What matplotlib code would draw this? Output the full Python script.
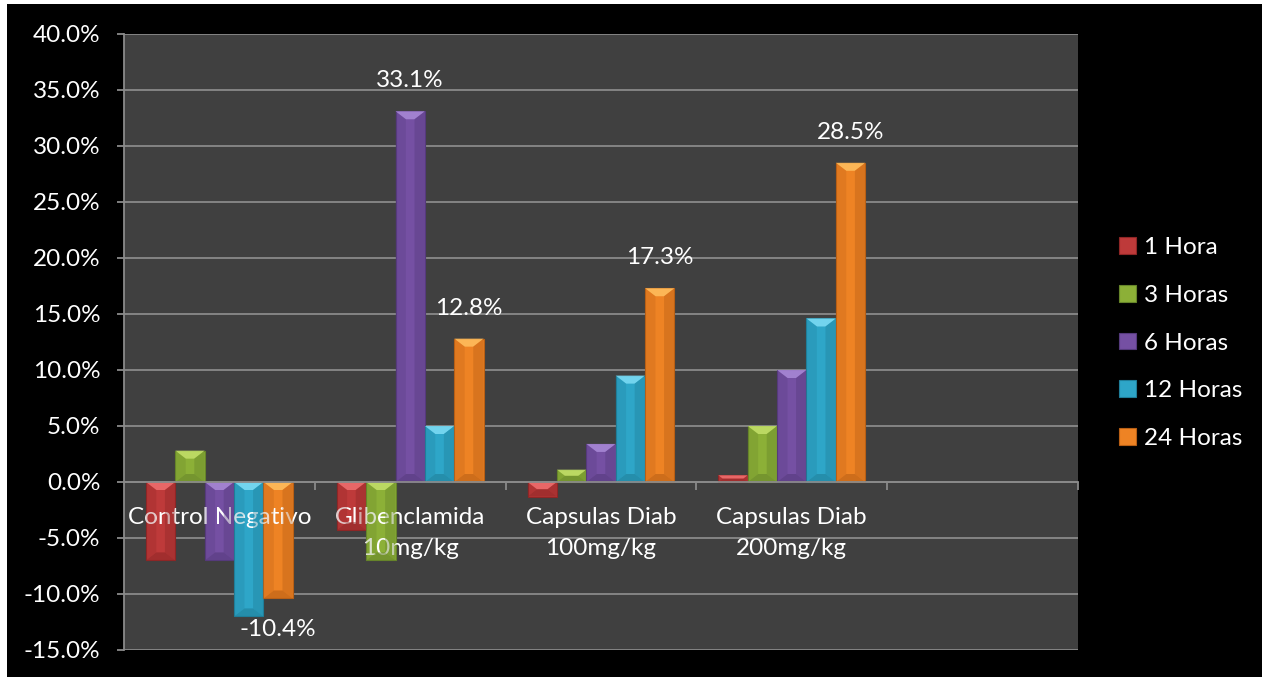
import matplotlib
matplotlib.use("Agg")
import matplotlib.pyplot as plt
import numpy as np
from matplotlib.patches import Polygon, Patch, Rectangle

categories = ["Control Negativo", "Glibenclamida\n10mg/kg", "Capsulas Diab\n100mg/kg", "Capsulas Diab\n200mg/kg"]
series_names = ["1 Hora", "3 Horas", "6 Horas", "12 Horas", "24 Horas"]
v_1h = [-7.0, -4.3, -1.3, 0.6]
v_3h = [2.8, -7.0, 1.1, 5.0]
v_6h = [-7.0, 33.1, 3.4, 10.0]
v_12h = [-12.0, 5.0, 9.5, 14.6]
v_24h = [-10.4, 12.8, 17.3, 28.5]
series_values = [v_1h, v_3h, v_6h, v_12h, v_24h]
yticks = [-15, -10, -5, 0, 5, 10, 15, 20, 25, 30, 35, 40]
# data labels shown in the reference: (series index, category index)
labelled = [(4, 0), (2, 1), (4, 1), (4, 2), (4, 3)]

colors = ["#BE3A3A", "#8CB037", "#7550A3", "#2EA6C8", "#EE8324"]
light = ["#F07070", "#C4E06A", "#AA8AD8", "#7FDDF5", "#FFC060"]
dark = ["#8E2626", "#66842A", "#553A7C", "#1F7E99", "#B85F15"]

FONT = "Lato"
FS = 17.5

W, H = 1262, 677
fig = plt.figure(figsize=(W / 100, H / 100), dpi=100)
fig.patch.set_facecolor("white")
fig.patches.append(Rectangle((7 / W, 0), 1 - 7 / W, 1 - 4 / H, transform=fig.transFigure,
                             facecolor="black", edgecolor="none", zorder=-10))

left, right, top, bottom = 124, 1078, 34, 650
ax = fig.add_axes([left / W, 1 - bottom / H, (right - left) / W, (bottom - top) / H])
ax.set_facecolor("#404040")

ncat = len(categories)
nser = len(series_names)
x = np.arange(ncat)
group = 0.77
bw = group / nser
ax.set_xlim(-0.5, 4.5)
ax.set_ylim(-15, 40)

# px -> data conversions
dxp = 5.0 / (right - left)
dyp = 55.0 / (bottom - top)
bev = 8  # bevel size in px

for yv in yticks:
    ax.axhline(yv, color="#8A8A8A", lw=1.3, zorder=0.5)

for i, (vals, c) in enumerate(zip(series_values, colors)):
    xs = x - group / 2 + bw * (i + 0.5)
    bars = ax.bar(xs, vals, width=bw, color=c, edgecolor=dark[i], linewidth=0.8, zorder=1.5)
    for b in bars:
        x0 = b.get_x(); w = b.get_width()
        y0 = b.get_y(); h = b.get_height()
        ylo, yhi = min(y0, y0 + h), max(y0, y0 + h)
        hpx = (yhi - ylo) / dyp
        bpx = min(bev, hpx / 2)
        bx = bpx * dxp * 1.3
        by = bpx * dyp
        # top bevel (light)
        ax.add_patch(Polygon([(x0, yhi), (x0 + w, yhi), (x0 + w - bx, yhi - by), (x0 + bx, yhi - by)],
                             closed=True, facecolor=light[i], edgecolor="none", zorder=1.6, alpha=0.85))
        # side bevels (dark)
        ax.add_patch(Polygon([(x0, yhi), (x0 + bx, yhi - by), (x0 + bx, ylo + by), (x0, ylo)],
                             closed=True, facecolor=dark[i], edgecolor="none", zorder=1.6, alpha=0.25))
        ax.add_patch(Polygon([(x0 + w, yhi), (x0 + w - bx, yhi - by), (x0 + w - bx, ylo + by), (x0 + w, ylo)],
                             closed=True, facecolor=dark[i], edgecolor="none", zorder=1.6, alpha=0.4))
        ax.add_patch(Polygon([(x0, ylo), (x0 + w, ylo), (x0 + w - bx, ylo + by), (x0 + bx, ylo + by)],
                             closed=True, facecolor=dark[i], edgecolor="none", zorder=1.6, alpha=0.6))

for si, ci in labelled:
    v = series_values[si][ci]
    xs = x[ci] - group / 2 + bw * (si + 0.5)
    off = 22 if v >= 0 else -22
    ax.annotate(f"{v:.1f}%", (xs, v), xytext=(0, off), textcoords="offset points",
                ha="center", va="center", color="white", fontsize=FS, family=FONT, zorder=3)

# axes styling
for s in ["top", "right"]:
    ax.spines[s].set_visible(False)
ax.spines["bottom"].set_position(("data", 0))
ax.spines["bottom"].set_color("#8A8A8A")
ax.spines["bottom"].set_linewidth(1.3)
ax.spines["left"].set_color("#8A8A8A")
ax.spines["left"].set_linewidth(1.3)

ax.set_yticks(yticks)
ax.set_yticklabels([f"{t:.1f}%" for t in yticks], color="white", fontsize=FS, family=FONT)
ax.tick_params(axis="y", direction="out", length=5, width=1.3, color="#8A8A8A", pad=12)

ax.set_xticks(x)
ax.set_xticklabels(categories, color="white", fontsize=FS, family=FONT, linespacing=1.6)
ax.tick_params(axis="x", which="major", length=0, pad=18)
ax.set_xticks(np.arange(0.5, 5.0, 1.0), minor=True)
ax.tick_params(axis="x", which="minor", direction="out", length=6, width=1.3, color="#8A8A8A")

handles = [Patch(facecolor=c, edgecolor=d, linewidth=0.8) for c, d in zip(colors, dark)]
fig.legend(handles, series_names, loc="center left", bbox_to_anchor=(1119 / W, 1 - 343 / H),
           frameon=False, labelcolor="white", prop={"family": FONT, "size": FS},
           borderpad=0, borderaxespad=0,
           handlelength=0.68, handleheight=0.68, handletextpad=0.35, labelspacing=1.1)

fig.savefig("out.png", dpi=100, facecolor=fig.get_facecolor())
